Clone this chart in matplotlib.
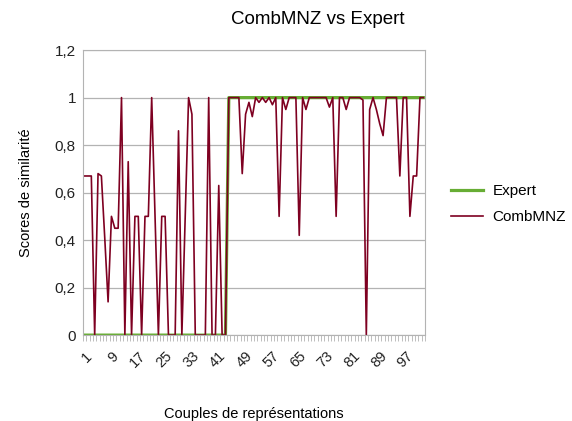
import numpy as np
import matplotlib
matplotlib.use('Agg')
import matplotlib.pyplot as plt
from matplotlib.ticker import FuncFormatter

plt.rcParams['font.family'] = ['Liberation Sans', 'DejaVu Sans']

## data

couples = np.arange(1, 103)

expert = [0]*43 + [1]*59

combmnz = [0.67, 0.67, 0.67, 0, 0.68, 0.67, 0.41, 0.14, 0.5, 0.45,
           0.45, 1, 0, 0.73, 0, 0.5, 0.5, 0, 0.5, 0.5,
           1, 0.5, 0, 0.5, 0.5, 0, 0, 0, 0.86, 0,
           0.5, 1, 0.93, 0, 0, 0, 0, 1, 0, 0,
           0.63, 0, 0, 1, 1, 1, 1, 0.68, 0.93, 0.98,
           0.92, 1, 0.98, 1, 0.98, 1, 0.97, 1, 0.5, 1,
           0.95, 1, 1, 1, 0.42, 1, 0.95, 1, 1, 1,
           1, 1, 1, 0.96, 1, 0.5, 1, 1, 0.95, 1,
           1, 1, 1, 0.99, 0, 0.95, 1, 0.95, 0.89, 0.84,
           1, 1, 1, 1, 0.67, 1, 1, 0.5, 0.67, 0.67,
           1, 1]

xtick_labels = couples[::8]

## figure

fig = plt.figure(figsize=(5.72, 4.21), dpi=100)
ax = fig.add_axes([0.145, 0.204, 0.598, 0.677])

ax.plot(couples, expert, color='#67ad34', lw=2.3, label='Expert')
ax.plot(couples, combmnz, color='#7e0021', lw=1.2, label='CombMNZ')

ax.set_xlim(0.5, len(couples) + 0.5)
ax.set_ylim(0, 1.2)
ax.set_yticks(np.arange(0, 1.21, 0.2))
ax.yaxis.set_major_formatter(FuncFormatter(lambda v, p: ('%g' % round(v, 1)).replace('.', ',')))
ax.grid(axis='y', color='#b3b3b3', lw=0.9)
ax.set_axisbelow(True)

# category ticks between every couple, labels every 8
ax.set_xticks(xtick_labels)
ax.set_xticklabels(xtick_labels, rotation=45, ha='right', rotation_mode='anchor')
ax.set_xticks(np.arange(0.5, len(couples) + 1, 1), minor=True)
ax.tick_params(axis='x', which='major', length=0, pad=10, labelsize=10.5, colors='#222222')
ax.tick_params(axis='x', which='minor', length=4, color='#b3b3b3')
ax.tick_params(axis='y', length=0, pad=5, labelsize=11, colors='#222222')

for s in ax.spines.values():
    s.set_color('#b3b3b3')

ax.set_xlabel('Couples de représentations', fontsize=10.5, labelpad=26)
ax.set_ylabel('Scores de similarité', fontsize=10.5, labelpad=16)
fig.text(318/572, 1 - 20/421, 'CombMNZ vs Expert', ha='center', va='center', fontsize=13.5)

fig.legend(loc='center left', bbox_to_anchor=(0.765, 0.515), frameon=False,
           fontsize=11, handlelength=2.1, handletextpad=0.6, labelspacing=0.8)

plt.savefig('out.png', dpi=100)
